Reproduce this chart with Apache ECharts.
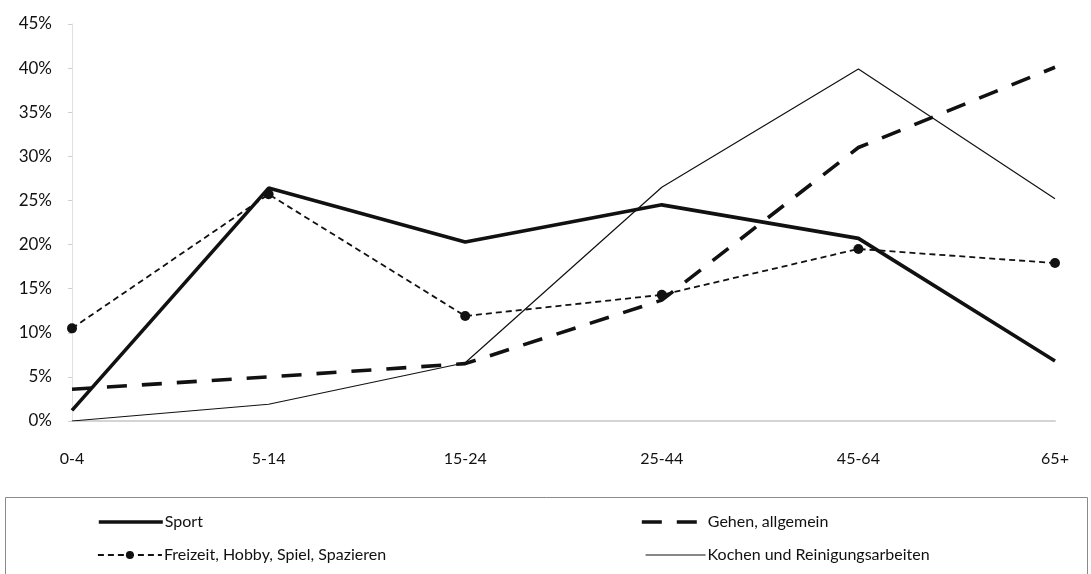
<!DOCTYPE html>
<html>
<head>
<meta charset="utf-8">
<script src="https://cdn.jsdelivr.net/npm/echarts@6/dist/echarts.min.js"></script>
<style>
  html, body { margin: 0; padding: 0; background: #fff; }
  #chart { width: 1091px; height: 574px; }
</style>
</head>
<body>
<div id="chart"></div>
<script>
// Altersgruppen
const categories = ['0-4', '5-14', '15-24', '25-44', '45-64', '65+'];

// Anteile in Prozent je Altersgruppe
const sport    = [1.2, 26.4, 20.3, 24.5, 20.7, 6.8];
const gehen    = [3.6, 5.0, 6.5, 13.7, 31.0, 40.1];
const freizeit = [10.5, 25.7, 11.9, 14.3, 19.5, 17.9];
const kochen   = [0.0, 1.9, 6.6, 26.5, 39.9, 25.2];

const seriesNames = [
  'Sport',
  'Gehen, allgemein',
  'Freizeit, Hobby, Spiel, Spazieren',
  'Kochen und Reinigungsarbeiten'
];

const FONT = 'Lato, "Open Sans", sans-serif';
const chart = echarts.init(document.getElementById('chart'), null, { renderer: 'canvas' });

// one legend entry per block, so each sits in its own column/row of the box
function legendAt(name, left, top, width, showMarker) {
  return {
    data: [name],
    left: left,
    top: top,
    itemWidth: width,
    itemHeight: 10,
    itemGap: 4,
    padding: 0,
    selectedMode: false,
    lineStyle: { width: 'inherit', type: 'inherit' },
    itemStyle: showMarker ? {} : { opacity: 0 },
    textStyle: { fontFamily: FONT, fontSize: 16, color: '#111', padding: [0, 0, 0, -3] }
  };
}

chart.setOption({
  animation: false,
  backgroundColor: '#fff',
  grid: { left: 72, right: 36, top: 24, bottom: 153, containLabel: false },
  xAxis: {
    type: 'category',
    data: categories,
    boundaryGap: false,
    axisLine: { lineStyle: { color: '#d4d4d4', width: 2 } },
    axisTick: { show: false },
    axisLabel: { fontFamily: FONT, fontSize: 16, color: '#111', margin: 30 }
  },
  yAxis: {
    type: 'value',
    min: 0,
    max: 45,
    interval: 5,
    splitLine: { show: false },
    axisLine: { show: true, lineStyle: { color: '#e0e0e0', width: 1 } },
    axisTick: { show: true, length: 4, lineStyle: { color: '#d0d0d0' } },
    axisLabel: { fontFamily: FONT, fontSize: 17, color: '#111', margin: 20, formatter: '{value}%' }
  },
  legend: [
    legendAt(seriesNames[0], 97, 514, 64, false),
    legendAt(seriesNames[1], 640, 514, 64, false),
    legendAt(seriesNames[2], 97, 547, 64, true),
    legendAt(seriesNames[3], 645, 547, 60, false)
  ],
  graphic: [{
    type: 'rect',
    shape: { x: 5.5, y: 497.5, width: 1082, height: 90 },
    style: { fill: 'none', stroke: '#8a8a8a', lineWidth: 1 },
    silent: true,
    z: -1
  }],
  series: [
    {
      name: seriesNames[0],
      type: 'line',
      data: sport,
      symbol: 'none',
      lineStyle: { color: '#111', width: 3.6, type: 'solid' },
      itemStyle: { color: '#111' },
      z: 4
    },
    {
      name: seriesNames[1],
      type: 'line',
      data: gehen,
      symbol: 'none',
      lineStyle: { color: '#111', width: 3.6, type: [20, 15] },
      itemStyle: { color: '#111' },
      z: 3
    },
    {
      name: seriesNames[2],
      type: 'line',
      data: freizeit,
      symbol: 'circle',
      symbolSize: 10,
      lineStyle: { color: '#111', width: 1.8, type: [6, 4] },
      itemStyle: { color: '#111' },
      z: 2
    },
    {
      name: seriesNames[3],
      type: 'line',
      data: kochen,
      symbol: 'none',
      lineStyle: { color: '#111', width: 1.2, type: 'solid' },
      itemStyle: { color: '#111' },
      z: 1
    }
  ]
});
</script>
</body>
</html>
